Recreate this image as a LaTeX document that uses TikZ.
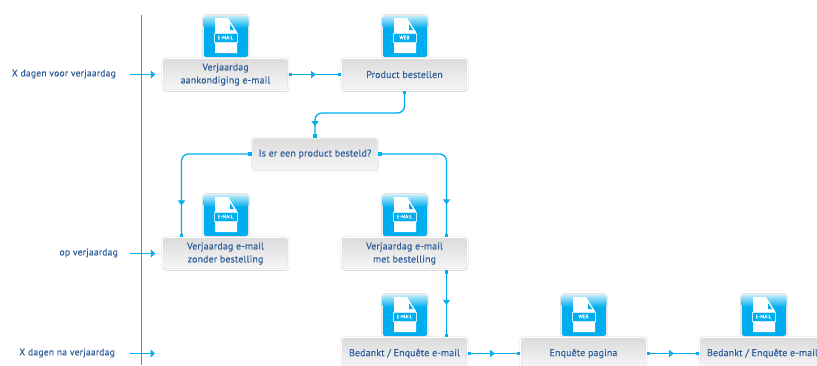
\documentclass[tikz,border=0pt]{standalone}
\usepackage{fontspec}
\setmainfont[FakeBold=0.35,LetterSpace=1.6]{PT Sans}
\usetikzlibrary{arrows.meta,decorations.markings,shadows}
\definecolor{lijnblauw}{HTML}{00AEEF}
\definecolor{lichtblauw}{HTML}{C4ECFA}
\definecolor{tekstblauw}{HTML}{2F5F9A}
\tikzset{
  blok/.style={draw=black!18,double=white,double distance=1.1pt,line width=.4pt,rounded corners=3pt,
    minimum width=126pt,minimum height=32pt,
    inner sep=0pt,align=center,text=tekstblauw,font=\fontsize{9.9pt}{13pt}\selectfont,
    top color=black!14,bottom color=black!3,
    drop shadow={shadow xshift=0.3pt,shadow yshift=-1.2pt,opacity=.22,fill=black}},
  tijd/.style={anchor=east,text=tekstblauw,inner sep=0pt,font=\fontsize{9.7pt}{11pt}\selectfont},
  lijn/.style={draw=lijnblauw,line width=1.3pt,rounded corners=7pt},
  pijl/.style={lijn,{Square[length=3.5pt,width=3.5pt]}-{Square[length=3.5pt,width=3.5pt]},
    decoration={markings,mark=at position #1 with {\arrow[lijnblauw]{Triangle[length=5pt,width=7pt]}}},
    postaction={decorate}},
  tijdpijl/.style={lijn,shorten >=7pt,-{Triangle[length=4.5pt,width=8pt]}},
  pics/ikoon/.style={code={
    \draw[black!18,double=white,double distance=1pt,line width=.4pt,rounded corners=3pt,fill=lijnblauw,
      drop shadow={shadow xshift=0.3pt,shadow yshift=-0.6pt,opacity=.2,fill=black}]
      (-23,0) -- (-23,-43) -- (23,-43) -- (23,0) -- cycle;
    \shade[top color=lichtblauw,bottom color=lijnblauw,rounded corners=2.5pt]
      (-22.5,-30) -- (-22.5,-42.5) -- (22.5,-42.5) -- (22.5,-30) -- cycle;
    \fill[white] (-11,-5) -- (-11,-40) -- (2,-40) -- (11,-26) -- (11,-5) -- cycle;
    \fill[lijnblauw] (4,-34) -- (8,-28) -- (4,-28) -- cycle;
    \draw[lichtblauw,line width=.3pt,fill=lijnblauw] (-12,-16) rectangle (11,-25);
    \node[text=white,inner sep=0pt,font=\fontsize{5pt}{5pt}\selectfont] (soort) at (-.5,-20.5) {#1};
  }}
}
\begin{document}
\begin{tikzpicture}[x=1pt,y=-1pt]
  \useasboundingbox (0,0) rectangle (817,365);
  \clip (0,0) rectangle (817,365);
  % tijdlijn
  \coordinate (asboven) at (141.5,15);
  \coordinate (asonder) at (141.5,365);
  \draw[lijn] (asboven) -- (asonder);
  % ikonen
  \foreach \x/\y/\soort in {226/58/E-MAIL,405/58/WEB,226/237/E-MAIL,405/237/E-MAIL,405/337/E-MAIL,584/337/WEB,764/337/E-MAIL}
    \pic at (\x,\y) {ikoon={\soort}};
  % blokken
  \node[blok] (aankondiging) at (225.5,74.5) {Verjaardag\\aankondiging e-mail};
  \node[blok] (bestellen) at (404.5,74.5) {Product bestellen};
  \node[blok] (vraag) at (315,154) {Is er een product besteld?};
  \node[blok] (zonder) at (225.5,253.5) {Verjaardag e-mail\\zonder bestelling};
  \node[blok] (met) at (404.5,253.5) {Verjaardag e-mail\\met bestelling};
  \node[blok] (bedankt) at (404.5,353.5) {Bedankt / Enquête e-mail};
  \node[blok] (enquete) at (583.5,353.5) {Enquête pagina};
  \node[blok] (bedanktlaatst) at (762.5,353.5) {Bedankt / Enquête e-mail};
  % tijd
  \node[tijd] (voor) at (116,74) {X dagen voor verjaardag};
  \node[tijd] (op) at (118,253) {op verjaardag};
  \node[tijd] (na) at (115,353) {X dagen na verjaardag};
  \coordinate (voorbegin) at (130,74.5);
  \coordinate (opbegin) at (130,253.5);
  \coordinate (nabegin) at (130,353.5);
  \coordinate (naeind) at (162,353.5);
  \draw[tijdpijl] (voorbegin) -- (aankondiging.west);
  \draw[tijdpijl] (opbegin) -- (zonder.west);
  \draw[tijdpijl] (nabegin) -- (naeind);
  % verbindingen
  \draw[pijl=.52] (aankondiging.east) -- (bestellen.west);
  \draw[pijl=.91] (bestellen.south) |- (315,113) -- (vraag.north);
  \draw[pijl=.79] (vraag.west) -| (181.5,237);
  \draw[pijl=.78] (vraag.east) -| (446.5,237);
  \draw[pijl=.52] (446.5,270) -- (446.5,337);
  \draw[pijl=.52] (bedankt.east) -- (enquete.west);
  \draw[pijl=.52] (enquete.east) -- (bedanktlaatst.west);
\end{tikzpicture}
\end{document}
